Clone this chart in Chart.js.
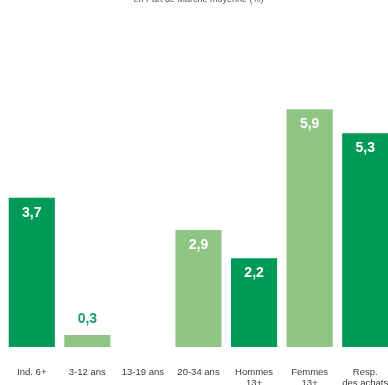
<!DOCTYPE html>
<html><head><meta charset="utf-8">
<script src="https://cdn.jsdelivr.net/npm/chart.js@4.4.0/dist/chart.umd.min.js"></script>
<style>
html,body{margin:0;padding:0;background:#fff;overflow:hidden;width:388px;height:385px;}
#c{position:absolute;left:0;top:-6px;}
</style></head><body>
<canvas id="c" width="397" height="400" style="width:397px;height:400px"></canvas>
<script>
const categories = [["Ind. 6+"], ["3-12 ans"], ["13-19 ans"], ["20-34 ans"], ["Hommes", "13+"], ["Femmes", "13+"], ["Resp.", "des achats"]];
const values = [3.7, 0.3, null, 2.9, 2.2, 5.9, 5.3];
const valueLabels = ["3,7", "0,3", "", "2,9", "2,2", "5,9", "5,3"];
const titleText = "en Part de Marché moyenne (%)";

const DARK = "#009a58", LIGHT = "#8fc584";
const barColors = [DARK, LIGHT, LIGHT, LIGHT, DARK, LIGHT, DARK];

const labelPlugin = {
  id: "vlabels",
  afterDatasetsDraw(chart) {
    const ctx = chart.ctx;
    const meta = chart.getDatasetMeta(0);
    ctx.save();
    ctx.font = "bold 14px 'Liberation Sans', Arial, sans-serif";
    ctx.textAlign = "center";
    ctx.textBaseline = "middle";
    meta.data.forEach((bar, i) => {
      const v = values[i];
      if (v === null) return;
      const h = bar.base - bar.y;
      if (h > 40) {
        ctx.fillStyle = "#ffffff";
        ctx.fillText(valueLabels[i], bar.x, bar.y + 15);
      } else {
        ctx.fillStyle = "#1f9a6c";
        ctx.fillText(valueLabels[i], bar.x, bar.y - 16);
      }
    });
    ctx.restore();
  }
};

new Chart(document.getElementById("c"), {
  type: "bar",
  data: {
    labels: categories,
    datasets: [{ data: values, backgroundColor: barColors, borderWidth: 0,
      barPercentage: 0.83, categoryPercentage: 1.0 }]
  },
  options: {
    responsive: false, animation: false, devicePixelRatio: 1,
    layout: { padding: { left: 4, right: 4, top: 0, bottom: 0 } },
    plugins: {
      legend: { display: false }, tooltip: { enabled: false },
      title: { display: true, text: titleText, color: "#555",
        font: { size: 9, family: "'Liberation Sans', Arial, sans-serif", weight: "normal" },
        padding: { top: 0, bottom: 10 } }
    },
    scales: {
      x: { grid: { display: false, drawTicks: false }, border: { display: false },
        afterFit(scale) { scale.height = 47; scale.paddingLeft = 0; scale.paddingRight = 0; },
        ticks: { color: "#3a3a3a", padding: 19, maxRotation: 0, autoSkip: false,
          font: { size: 9.5, lineHeight: 1.25, family: "'Liberation Sans', Arial, sans-serif" } } },
      y: { display: false, min: 0, max: 8.24 }
    }
  },
  plugins: [labelPlugin]
});
</script></body></html>
